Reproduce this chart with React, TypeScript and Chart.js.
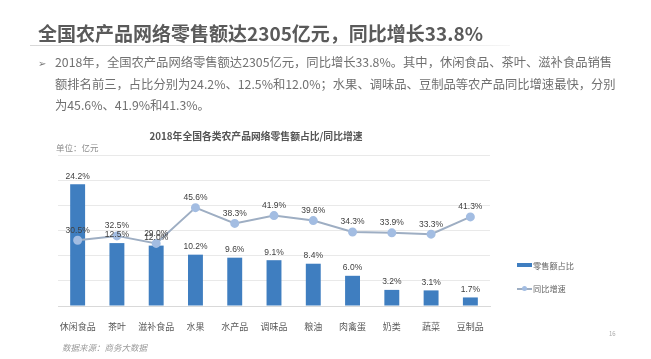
import React, { useEffect, useRef } from "react";
import { Chart, registerables } from "chart.js";

Chart.register(...registerables);

const categories = ["休闲食品", "茶叶", "滋补食品", "水果", "水产品", "调味品", "粮油", "肉禽蛋", "奶类", "蔬菜", "豆制品"];
const shareValues = [24.2, 12.5, 12.0, 10.2, 9.6, 9.1, 8.4, 6.0, 3.2, 3.1, 1.7];
const growthValues = [30.5, 32.5, 29.0, 45.6, 38.3, 41.9, 39.6, 34.3, 33.9, 33.3, 41.3];
const shareLabel = "零售额占比";
const growthLabel = "同比增速";

const BAR_COLOR = "#3f7ec0";
const LINE_COLOR = "#9eaec3";
const POINT_COLOR = "#a3bde2";
const CJK = "'Noto Sans CJK SC', sans-serif";
const NUM = "'Liberation Sans', 'Noto Sans CJK SC', sans-serif";

const valueLabels = {
  id: "valueLabels",
  afterDatasetsDraw(chart: any) {
    const ctx = chart.ctx;
    ctx.save();
    ctx.font = `8.5px ${NUM}`;
    ctx.fillStyle = "#404040";
    ctx.textAlign = "center";
    ctx.textBaseline = "middle";
    chart.data.datasets.forEach((ds: any, i: number) => {
      const meta = chart.getDatasetMeta(i);
      meta.data.forEach((el: any, j: number) => {
        const v = ds.data[j] as number;
        const off = ds.type === "line" ? 10 : 8;
        ctx.fillText(v.toFixed(1) + "%", el.x, el.y - off);
      });
    });
    ctx.restore();
  },
};

export default function App() {
  const ref = useRef<HTMLCanvasElement>(null);
  useEffect(() => {
    if (!ref.current) return;
    const chart = new Chart(ref.current, {
      type: "bar",
      data: {
        labels: categories,
        datasets: [
          {
            type: "line",
            label: growthLabel,
            data: growthValues,
            yAxisID: "y1",
            borderColor: LINE_COLOR,
            borderWidth: 2,
            pointRadius: 3.5,
            pointBackgroundColor: POINT_COLOR,
            pointBorderColor: POINT_COLOR,
            tension: 0,
            order: 0,
          } as any,
          {
            type: "bar",
            label: shareLabel,
            data: shareValues,
            yAxisID: "y",
            backgroundColor: BAR_COLOR,
            barPercentage: 0.38,
            categoryPercentage: 1,
            order: 1,
          } as any,
        ],
      },
      options: {
        responsive: false,
        animation: false,
        layout: { padding: { left: 58, right: 161, top: 155, bottom: 25 } },
        plugins: { legend: { display: false }, tooltip: { enabled: false } },
        scales: {
          x: {
            grid: { display: false },
            border: { display: true, color: "#d9d9d9" },
            ticks: {
              font: { family: CJK, size: 9 },
              color: "#595959",
              padding: 7,
              maxRotation: 0,
              minRotation: 0,
              autoSkip: false,
            },
            afterFit: (a: any) => {
              a.height = 28;
            },
          },
          y: {
            min: 0,
            max: 30,
            ticks: { display: false, stepSize: 5 },
            grid: { color: "#e9e9e9", drawTicks: false },
            border: { display: false },
            afterFit: (a: any) => {
              a.width = 0;
            },
          },
          y1: {
            position: "right",
            min: 0,
            max: 70,
            display: false,
          },
        },
      },
      plugins: [valueLabels],
    });
    return () => chart.destroy();
  }, []);

  const txt: React.CSSProperties = { position: "absolute", whiteSpace: "nowrap", fontFamily: CJK };

  return (
    <div style={{ position: "absolute", left: 0, top: 0, width: 651, height: 359, background: "#fff", overflow: "hidden" }}>
      <canvas ref={ref} width={651} height={359} style={{ position: "absolute", left: 0, top: 0 }} />
      <div style={{ ...txt, left: 38, top: 21, fontSize: 19, fontWeight: 700, color: "#5a5a5a", lineHeight: "24px" }}>
        全国农产品网络零售额达2305亿元，同比增长33.8%
      </div>
      <div
        style={{
          position: "absolute",
          left: 30,
          top: 45,
          width: 480,
          height: 1,
          background: "linear-gradient(to right, #d8d8d8, #e4e4e4 80%, #f6f6f6)",
        }}
      />
      <div style={{ ...txt, left: 38, top: 53, fontSize: 10, color: "#777", lineHeight: "20px" }}>➢</div>
      <div
        style={{
          position: "absolute",
          left: 55,
          top: 52,
          width: 565,
          fontFamily: CJK,
          fontSize: 12.3,
          color: "#707070",
          lineHeight: "21.5px",
          whiteSpace: "normal",
        }}
      >
        2018年，全国农产品网络零售额达2305亿元，同比增长33.8%。其中，休闲食品、茶叶、滋补食品销售
        <br />
        额排名前三，占比分别为24.2%、12.5%和12.0%；水果、调味品、豆制品等农产品同比增速最快，分别
        <br />
        为45.6%、41.9%和41.3%。
      </div>
      <div style={{ ...txt, left: 256, top: 129, transform: "translateX(-50%)", fontSize: 9.8, fontWeight: 700, color: "#555", lineHeight: "14px" }}>
        2018年全国各类农产品网络零售额占比/同比增速
      </div>
      <div style={{ ...txt, left: 56, top: 141, fontSize: 8.5, color: "#8a8a8a", lineHeight: "12px" }}>单位：亿元</div>
      <div style={{ position: "absolute", left: 517, top: 263, width: 15, height: 4, background: BAR_COLOR }} />
      <div style={{ ...txt, left: 533, top: 259, fontSize: 8.2, color: "#666", lineHeight: "12px" }}>{shareLabel}</div>
      <div style={{ position: "absolute", left: 517, top: 288, width: 15, height: 1.5, background: LINE_COLOR }} />
      <div style={{ position: "absolute", left: 522, top: 286, width: 5, height: 5, borderRadius: "50%", background: POINT_COLOR }} />
      <div style={{ ...txt, left: 533, top: 282, fontSize: 8.2, color: "#666", lineHeight: "12px" }}>{growthLabel}</div>
      <div style={{ ...txt, left: 62, top: 341, fontSize: 8.5, fontStyle: "italic", color: "#9a9a9a", lineHeight: "12px" }}>
        数据来源：商务大数据
      </div>
      <div style={{ ...txt, left: 609, top: 330, fontSize: 6, color: "#aaa", lineHeight: "8px" }}>16</div>
    </div>
  );
}
